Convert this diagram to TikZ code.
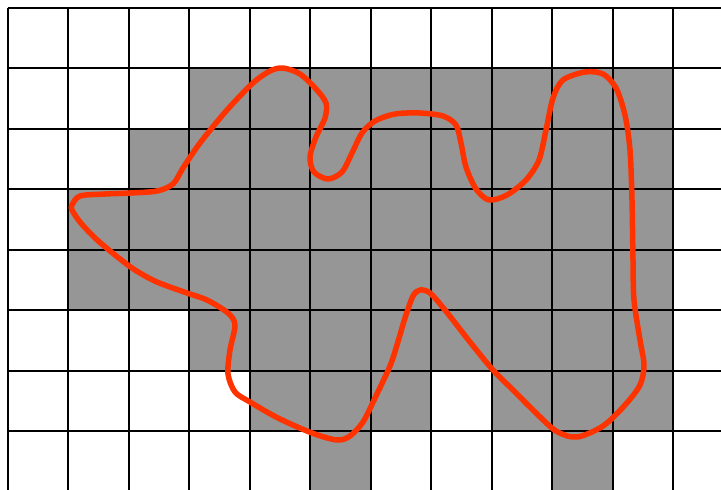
\documentclass[tikz,border=0pt]{standalone}
\usetikzlibrary{calc}
\definecolor{cellgray}{RGB}{150,150,150}
\definecolor{curvered}{RGB}{255,51,0}
\tikzset{
  gridline/.style={black, line width=2pt},
  cellfill/.style={fill=cellgray},
  blob/.style={curvered, line width=5.5pt, line join=round}
}
\begin{document}
\begin{tikzpicture}[x=1pt,y=-1pt]
\useasboundingbox (0,0) rectangle (721,490);
\fill[white] (0,0) rectangle (721,490);
% gray cells: row / list of columns
\foreach \r/\cols in {1/{3,4,5,6,7,8,9,10},2/{2,3,4,5,6,7,8,9,10},3/{1,2,3,4,5,6,7,8,9,10},4/{1,2,3,4,5,6,7,8,9,10},5/{3,4,5,6,7,8,9,10},6/{4,5,6,8,9,10},7/{5,9}}{
  \foreach \c in \cols {
    \fill[cellfill] ({7.5+60.5*\c},{7.5+60.5*\r}) rectangle ++(60.5,60.5);
  }
}
% grid lines
\foreach \k in {0,...,11} { \draw[gridline] ({7.5+60.5*\k},7.5) -- ({7.5+60.5*\k},490); }
\foreach \k in {0,...,7} { \draw[gridline] (7.5,{7.5+60.5*\k}) -- (721,{7.5+60.5*\k}); }
% curve
\draw[blob] plot[smooth cycle, tension=0.5] coordinates {
(72,205) (80,196) (105,194) (130,193) (157,191) (173,184) (183,168) (200,143)
(227,110) (253,83) (270,71) (283,68) (300,74) (316,89) (326,103) (325,118)
(316,137) (310,157) (314,172) (328,179) (342,172) (352,153) (362,133) (375,121)
(395,114) (420,113) (443,116) (456,125) (461,143) (466,167) (476,189) (489,200)
(507,195) (526,180) (539,160) (546,130) (553,98) (563,80) (585,72) (603,74)
(616,88) (625,115) (630,150) (632,200) (633,260) (634,300) (640,340) (644,365)
(640,385) (625,405) (603,426) (577,437) (556,431) (533,410) (513,390) (493,370)
(470,342) (445,310) (430,293) (420,290) (413,296) (405,318) (397,345) (390,366)
(375,398) (363,422) (350,436) (337,440) (312,433) (278,418) (250,402) (235,392)
(228,374) (230,350) (235,325) (228,313) (207,300) (187,293) (157,282) (135,270)
(115,255) (95,238) (80,222) (72,210)
};
\end{tikzpicture}
\end{document}
